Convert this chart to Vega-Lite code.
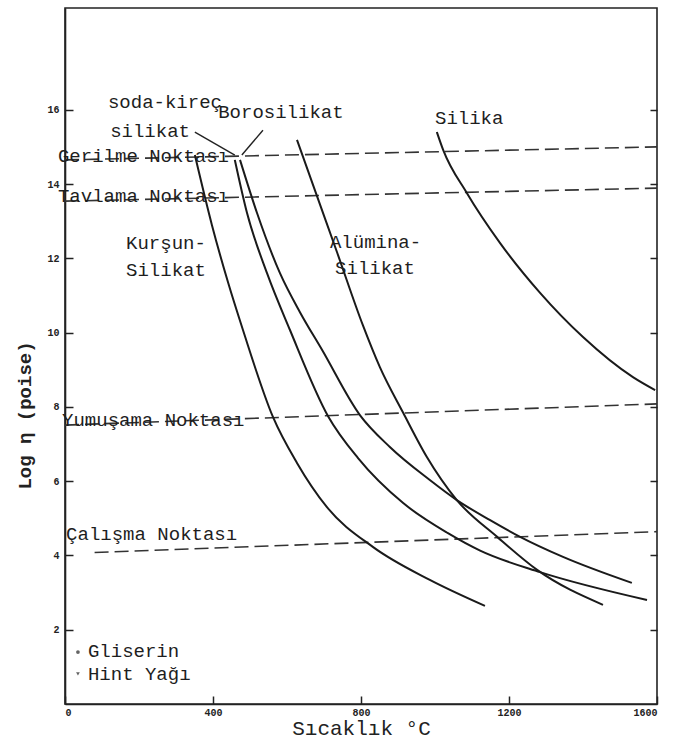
{
  "$schema": "https://vega.github.io/schema/vega-lite/v6.json",
  "width": 592,
  "height": 696,
  "autosize": {"type": "none"},
  "padding": {"left": 65, "top": 8, "right": 16, "bottom": 41},
  "background": "white",
  "config": {
    "view": {"stroke": "#222", "strokeWidth": 1.6},
    "font": "Liberation Mono",
    "axis": {"labelFont": "Liberation Mono", "titleFont": "Liberation Mono", "domainColor": "#222", "tickColor": "#222", "labelColor": "#222", "titleColor": "#222", "grid": false}
  },
  "datasets": {
    "curves": [
      {"series": "Kurşun-Silikat", "T": 351, "logEta": 14.78},
      {"series": "Kurşun-Silikat", "T": 397, "logEta": 12.90},
      {"series": "Kurşun-Silikat", "T": 441, "logEta": 11.34},
      {"series": "Kurşun-Silikat", "T": 481, "logEta": 10.07},
      {"series": "Kurşun-Silikat", "T": 562, "logEta": 7.73},
      {"series": "Kurşun-Silikat", "T": 627, "logEta": 6.49},
      {"series": "Kurşun-Silikat", "T": 708, "logEta": 5.30},
      {"series": "Kurşun-Silikat", "T": 832, "logEta": 4.23},
      {"series": "Kurşun-Silikat", "T": 986, "logEta": 3.34},
      {"series": "Kurşun-Silikat", "T": 1135, "logEta": 2.64},
      {"series": "Soda-kireç silikat", "T": 459, "logEta": 14.65},
      {"series": "Soda-kireç silikat", "T": 492, "logEta": 13.22},
      {"series": "Soda-kireç silikat", "T": 546, "logEta": 11.60},
      {"series": "Soda-kireç silikat", "T": 608, "logEta": 10.07},
      {"series": "Soda-kireç silikat", "T": 711, "logEta": 7.75},
      {"series": "Soda-kireç silikat", "T": 792, "logEta": 6.62},
      {"series": "Soda-kireç silikat", "T": 914, "logEta": 5.41},
      {"series": "Soda-kireç silikat", "T": 1035, "logEta": 4.60},
      {"series": "Soda-kireç silikat", "T": 1122, "logEta": 4.13},
      {"series": "Soda-kireç silikat", "T": 1284, "logEta": 3.55},
      {"series": "Soda-kireç silikat", "T": 1573, "logEta": 2.80},
      {"series": "Borosilikat", "T": 473, "logEta": 14.65},
      {"series": "Borosilikat", "T": 519, "logEta": 13.22},
      {"series": "Borosilikat", "T": 581, "logEta": 11.60},
      {"series": "Borosilikat", "T": 635, "logEta": 10.55},
      {"series": "Borosilikat", "T": 695, "logEta": 9.53},
      {"series": "Borosilikat", "T": 797, "logEta": 7.78},
      {"series": "Borosilikat", "T": 878, "logEta": 6.92},
      {"series": "Borosilikat", "T": 986, "logEta": 6.03},
      {"series": "Borosilikat", "T": 1059, "logEta": 5.49},
      {"series": "Borosilikat", "T": 1149, "logEta": 4.95},
      {"series": "Borosilikat", "T": 1230, "logEta": 4.50},
      {"series": "Borosilikat", "T": 1346, "logEta": 3.96},
      {"series": "Borosilikat", "T": 1532, "logEta": 3.26},
      {"series": "Alümina-Silikat", "T": 627, "logEta": 15.19},
      {"series": "Alümina-Silikat", "T": 678, "logEta": 13.76},
      {"series": "Alümina-Silikat", "T": 735, "logEta": 12.17},
      {"series": "Alümina-Silikat", "T": 805, "logEta": 10.20},
      {"series": "Alümina-Silikat", "T": 851, "logEta": 9.07},
      {"series": "Alümina-Silikat", "T": 914, "logEta": 7.84},
      {"series": "Alümina-Silikat", "T": 978, "logEta": 6.65},
      {"series": "Alümina-Silikat", "T": 1059, "logEta": 5.49},
      {"series": "Alümina-Silikat", "T": 1168, "logEta": 4.50},
      {"series": "Alümina-Silikat", "T": 1276, "logEta": 3.61},
      {"series": "Alümina-Silikat", "T": 1454, "logEta": 2.67},
      {"series": "Silika", "T": 1005, "logEta": 15.40},
      {"series": "Silika", "T": 1022, "logEta": 14.92},
      {"series": "Silika", "T": 1086, "logEta": 13.76},
      {"series": "Silika", "T": 1176, "logEta": 12.41},
      {"series": "Silika", "T": 1284, "logEta": 11.07},
      {"series": "Silika", "T": 1400, "logEta": 9.88},
      {"series": "Silika", "T": 1535, "logEta": 8.80},
      {"series": "Silika", "T": 1595, "logEta": 8.45}
    ],
    "refs": [
      {"line": "Gerilme", "T": 0, "v": 14.65},
      {"line": "Gerilme", "T": 1600, "v": 15.0},
      {"line": "Tavlama", "T": 0, "v": 13.54},
      {"line": "Tavlama", "T": 1600, "v": 13.89},
      {"line": "Yumuşama", "T": 0, "v": 7.51},
      {"line": "Yumuşama", "T": 1600, "v": 8.08},
      {"line": "Çalışma", "T": 80, "v": 4.08},
      {"line": "Çalışma", "T": 1600, "v": 4.64}
    ],
    "leaders": [
      {"x1": 351, "y1": 15.40, "x2": 459, "y2": 14.78},
      {"x1": 535, "y1": 15.45, "x2": 478, "y2": 14.78}
    ],
    "markers": [
      {"name": "Gliserin", "T": 35, "logEta": 1.40},
      {"name": "Hint Yağı", "T": 35, "logEta": 0.81}
    ],
    "labels": [
      {"text": "soda-kireç", "T": 116, "v": 16.21},
      {"text": "silikat", "T": 122, "v": 15.43},
      {"text": "Borosilikat", "T": 414, "v": 15.94},
      {"text": "Silika", "T": 1000, "v": 15.78},
      {"text": "Gerilme Noktası", "T": -19, "v": 14.75},
      {"text": "Tavlama Noktası", "T": -19, "v": 13.68},
      {"text": "Kurşun-", "T": 165, "v": 12.41},
      {"text": "Silikat", "T": 165, "v": 11.69},
      {"text": "Alümina-", "T": 716, "v": 12.44},
      {"text": "Silikat", "T": 730, "v": 11.74},
      {"text": "Yumuşama Noktası", "T": -8, "v": 7.65},
      {"text": "Çalışma Noktası", "T": 3, "v": 4.58},
      {"text": "Gliserin", "T": 62, "v": 1.43},
      {"text": "Hint Yağı", "T": 62, "v": 0.81}
    ]
  },
  "resolve": {"axis": {"x": "independent", "y": "independent"}},
  "layer": [
    {
      "data": {"name": "refs"},
      "mark": {"type": "line", "strokeDash": [14, 6], "strokeWidth": 1.6, "color": "#333"},
      "encoding": {
        "x": {"field": "T", "type": "quantitative", "scale": {"domain": [0, 1600], "nice": false, "zero": false},
              "axis": {"values": [0, 400, 800, 1200, 1600], "format": "d", "tickSize": -8, "tickWidth": 1.5, "labelPadding": 11, "labelFontSize": 10, "labelFontWeight": "bold", "domainWidth": 1.6,
                       "title": "Sıcaklık °C", "titleFontSize": 21, "titleFontWeight": "normal", "titlePadding": 0}},
        "y": {"field": "v", "type": "quantitative", "scale": {"domain": [0, 18.74], "nice": false, "zero": false},
              "axis": {"orient": "right", "values": [2, 4, 6, 8, 10, 12, 14, 16], "labels": false, "domain": false, "tickSize": -7, "tickWidth": 1.5, "title": null}},
        "detail": {"field": "line"}
      }
    },
    {
      "data": {"name": "curves"},
      "mark": {"type": "line", "interpolate": "monotone", "strokeWidth": 2, "color": "#1a1a1a"},
      "encoding": {
        "x": {"field": "T", "type": "quantitative", "scale": {"domain": [0, 1600], "nice": false, "zero": false}, "axis": null},
        "y": {"field": "logEta", "type": "quantitative", "scale": {"domain": [0, 18.74], "nice": false, "zero": false},
              "axis": {"orient": "left", "values": [2, 4, 6, 8, 10, 12, 14, 16], "tickSize": -8, "tickWidth": 1.5, "labelPadding": 14, "labelFontSize": 10, "labelFontWeight": "bold", "domainWidth": 1.6,
                       "title": "Log η  (poise)", "titleFontSize": 19, "titleFontWeight": "bold", "titleY": 407, "titlePadding": 12}},
        "detail": {"field": "series"}
      }
    },
    {
      "data": {"name": "leaders"},
      "mark": {"type": "rule", "strokeWidth": 1.4, "color": "#222"},
      "encoding": {
        "x": {"field": "x1", "type": "quantitative", "scale": {"domain": [0, 1600], "nice": false, "zero": false}, "axis": null},
        "y": {"field": "y1", "type": "quantitative", "scale": {"domain": [0, 18.74], "nice": false, "zero": false}, "axis": null},
        "x2": {"field": "x2"},
        "y2": {"field": "y2"}
      }
    },
    {
      "data": {"name": "markers"},
      "mark": {"type": "point", "filled": true, "size": 14, "color": "#222"},
      "encoding": {
        "x": {"field": "T", "type": "quantitative", "scale": {"domain": [0, 1600], "nice": false, "zero": false}, "axis": null},
        "y": {"field": "logEta", "type": "quantitative", "scale": {"domain": [0, 18.74], "nice": false, "zero": false}, "axis": null},
        "shape": {"field": "name", "type": "nominal", "legend": null, "scale": {"range": ["circle", "triangle-down"]}}
      }
    },
    {
      "data": {"name": "labels"},
      "mark": {"type": "text", "align": "left", "baseline": "middle", "font": "Liberation Mono", "fontSize": 19, "color": "#1e1e1e"},
      "encoding": {
        "x": {"field": "T", "type": "quantitative", "scale": {"domain": [0, 1600], "nice": false, "zero": false}, "axis": null},
        "y": {"field": "v", "type": "quantitative", "scale": {"domain": [0, 18.74], "nice": false, "zero": false}, "axis": null},
        "text": {"field": "text"}
      }
    }
  ]
}
